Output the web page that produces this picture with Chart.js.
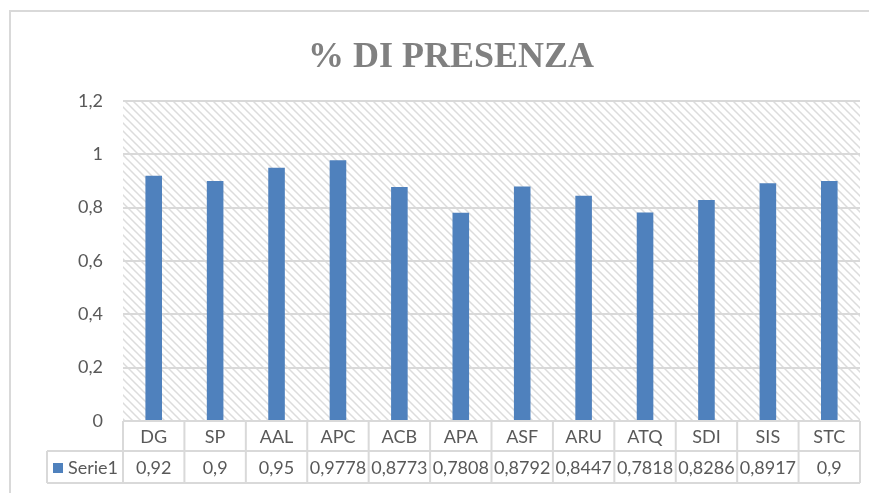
<!DOCTYPE html>
<html>
<head>
<meta charset="utf-8">
<script src="https://cdn.jsdelivr.net/npm/chart.js@4"></script>
<style>
  html, body { margin: 0; padding: 0; background: #fff; }
  #wrap { width: 869px; height: 493px; }
</style>
</head>
<body>
<div id="wrap"><canvas id="presenzaChart" width="869" height="493"></canvas></div>
<script>
const TITLE = '% DI PRESENZA';
const SERIES_NAME = 'Serie1';
const categories = ['DG', 'SP', 'AAL', 'APC', 'ACB', 'APA', 'ASF', 'ARU', 'ATQ', 'SDI', 'SIS', 'STC'];
const presenza = [0.92, 0.9, 0.95, 0.9778, 0.8773, 0.7808, 0.8792, 0.8447, 0.7818, 0.8286, 0.8917, 0.9];
const yTickLabels = ['0', '0,2', '0,4', '0,6', '0,8', '1', '1,2'];

const BAR_BLUE = '#4f81bd';
const LINE_GRAY = '#d9d9d9';
const TEXT_GRAY = '#595959';
const TEXT_FONT = '18px Lato';

function hatchPattern(ctx) {
    const c = document.createElement('canvas');
    c.width = 8;
    c.height = 8;
    const p = c.getContext('2d');
    p.strokeStyle = '#dcdcdc';
    p.lineWidth = 1.5;
    p.beginPath();
    p.moveTo(-2, -2); p.lineTo(10, 10);
    p.moveTo(-2, 6); p.lineTo(2, 10);
    p.moveTo(6, -2); p.lineTo(10, 2);
    p.stroke();
    return ctx.createPattern(c, 'repeat');
}

// border, hatch background and title
const backdropPlugin = {
    id: 'backdrop',
    beforeDraw(chart) {
        const { ctx, chartArea } = chart;
        ctx.save();
        ctx.fillStyle = '#fff';
        ctx.fillRect(0, 0, chart.width, chart.height);
        ctx.strokeStyle = LINE_GRAY;
        ctx.lineWidth = 2;
        ctx.strokeRect(10, 11, 2000, 2000);
        ctx.fillStyle = hatchPattern(ctx);
        ctx.fillRect(chartArea.left, chartArea.top, chartArea.right - chartArea.left, chartArea.bottom - chartArea.top);

        ctx.fillStyle = '#808080';
        ctx.font = 'bold 36px "Liberation Serif"';
        ctx.textAlign = 'center';
        ctx.textBaseline = 'alphabetic';
        ctx.fillText(TITLE, 451, 67);
        ctx.restore();
    }
};

// data table under the plot, Excel style
const dataTablePlugin = {
    id: 'dataTable',
    afterDraw(chart) {
        const { ctx, chartArea } = chart;
        const xScale = chart.scales.x;
        const colW = (chartArea.right - chartArea.left) / categories.length;
        const top = chartArea.bottom;
        const mid = top + 30;
        const bottom = mid + 32;
        const legendLeft = 47;

        ctx.save();
        ctx.strokeStyle = LINE_GRAY;
        ctx.lineWidth = 2;
        ctx.beginPath();
        ctx.moveTo(chartArea.left, top); ctx.lineTo(chartArea.right, top);
        ctx.moveTo(legendLeft, mid); ctx.lineTo(chartArea.right, mid);
        ctx.moveTo(legendLeft, bottom); ctx.lineTo(chartArea.right, bottom);
        ctx.moveTo(legendLeft, mid); ctx.lineTo(legendLeft, bottom);
        for (let i = 0; i <= categories.length; i++) {
            const x = chartArea.left + i * colW;
            ctx.moveTo(x, top); ctx.lineTo(x, bottom);
        }
        ctx.stroke();

        ctx.fillStyle = TEXT_GRAY;
        ctx.font = TEXT_FONT;
        ctx.textAlign = 'center';
        ctx.textBaseline = 'middle';
        categories.forEach((cat, i) => {
            const cx = xScale.getPixelForValue(i);
            ctx.fillText(cat, cx, (top + mid) / 2 + 1);
            ctx.fillText(String(presenza[i]).replace('.', ','), cx, (mid + bottom) / 2 + 1);
        });

        // legend key
        ctx.fillStyle = BAR_BLUE;
        ctx.fillRect(53, 463, 10, 10);
        ctx.fillStyle = TEXT_GRAY;
        ctx.textAlign = 'left';
        ctx.fillText(SERIES_NAME, 68, (mid + bottom) / 2 + 1);
        ctx.restore();
    }
};

const ctx = document.getElementById('presenzaChart').getContext('2d');
const presenzaChart = new Chart(ctx, {
    type: 'bar',
    data: {
        labels: categories,
        datasets: [{
            label: SERIES_NAME,
            data: presenza,
            backgroundColor: BAR_BLUE,
            borderWidth: 0,
            categoryPercentage: 1,
            barPercentage: 0.27
        }]
    },
    options: {
        responsive: false,
        animation: false,
        devicePixelRatio: 1,
        layout: {
            padding: { top: 101, right: 9, bottom: 72, left: 0 }
        },
        plugins: {
            legend: { display: false },
            title: { display: false },
            tooltip: { enabled: false }
        },
        scales: {
            x: {
                display: false
            },
            y: {
                min: 0,
                max: 1.2,
                border: { display: false },
                grid: {
                    color: LINE_GRAY,
                    lineWidth: 2,
                    drawTicks: false
                },
                ticks: {
                    stepSize: 0.2,
                    padding: 20,
                    color: TEXT_GRAY,
                    font: { family: 'Lato', size: 18 },
                    callback: function(value) {
                        return yTickLabels[Math.round(value * 5)];
                    }
                },
                afterFit: function(scale) {
                    scale.width = 123;
                }
            }
        }
    },
    plugins: [backdropPlugin, dataTablePlugin]
});
</script>
</body>
</html>
